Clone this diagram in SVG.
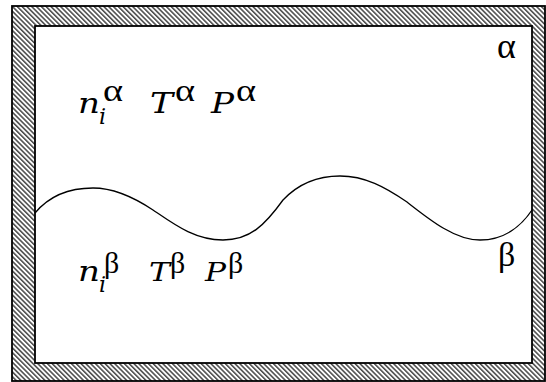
<svg xmlns="http://www.w3.org/2000/svg" width="546" height="382" viewBox="0 0 546 382">
<defs>
<pattern id="hatch" patternUnits="userSpaceOnUse" width="3.4" height="3.4" patternTransform="rotate(-45)">
<rect width="3.4" height="3.4" fill="#fff"/>
<line x1="0.8" y1="-1" x2="0.8" y2="5" stroke="#000" stroke-width="1.1"/>
</pattern>
<style>
.m{font-family:"DejaVu Serif","Liberation Serif",serif;font-style:italic;fill:#000}
.g{font-family:"Liberation Serif",serif;fill:#000}
</style>
</defs>
<g id="container">
<rect x="12" y="6" width="533" height="375" fill="url(#hatch)" stroke="#000" stroke-width="1.8"/>
<rect x="35" y="26" width="497" height="337" fill="#fff" stroke="#000" stroke-width="1.8"/>
</g>
<g id="interface">
<path d="M35,213 C50,195 70,188 93,188 C115,188 135,198 153,210 C175,225 195,240 223,240 C250,240 265,225 283,200 C300,182 320,176 340,176 C365,176 385,187 407,202 C430,220 455,240 480,240 C505,240 522,225 532,210" fill="none" stroke="#000" stroke-width="1.3"/>
</g>
<g id="phase-alpha">
<text class="g" x="497" y="58" font-size="36">α</text>
<text class="m" x="78" y="113" font-size="28" textLength="22" lengthAdjust="spacingAndGlyphs">n</text>
<text class="g" x="103" y="101" font-size="32" textLength="20" lengthAdjust="spacingAndGlyphs">α</text>
<text class="m" x="99" y="124" font-size="22">i</text>
<text class="m" x="150" y="113" font-size="28" textLength="23" lengthAdjust="spacingAndGlyphs">T</text>
<text class="g" x="175" y="101" font-size="32" textLength="20" lengthAdjust="spacingAndGlyphs">α</text>
<text class="m" x="211" y="113" font-size="28" textLength="23" lengthAdjust="spacingAndGlyphs">P</text>
<text class="g" x="236" y="101" font-size="32" textLength="20" lengthAdjust="spacingAndGlyphs">α</text>
</g>
<g id="phase-beta">
<text class="g" x="498" y="266" font-size="34">β</text>
<text class="m" x="78" y="281" font-size="28" textLength="22" lengthAdjust="spacingAndGlyphs">n</text>
<text class="g" x="104" y="273" font-size="30">β</text>
<text class="m" x="99" y="292" font-size="22">i</text>
<text class="m" x="149" y="281" font-size="26" textLength="21" lengthAdjust="spacingAndGlyphs">T</text>
<text class="g" x="170" y="273" font-size="30">β</text>
<text class="m" x="205" y="281" font-size="26" textLength="21" lengthAdjust="spacingAndGlyphs">P</text>
<text class="g" x="228" y="273" font-size="30">β</text>
</g>
</svg>
